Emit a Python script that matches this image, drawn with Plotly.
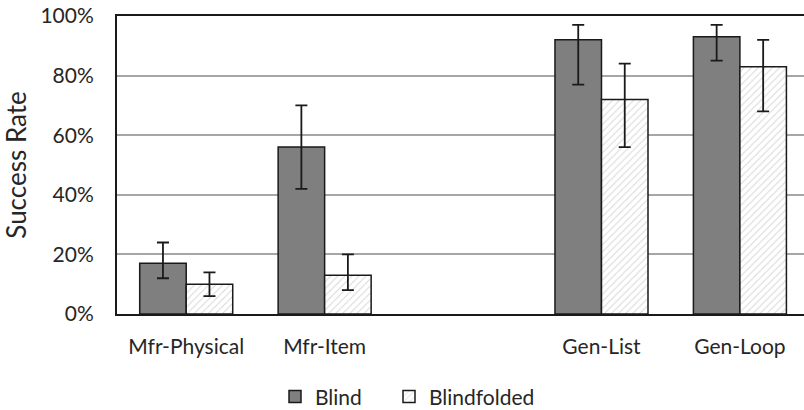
import plotly.graph_objects as go

categories = ["Mfr-Physical", "Mfr-Item", " ", "Gen-List", "Gen-Loop"]
blind = [17, 56, None, 92, 93]
blind_err_plus = [7, 14, None, 5, 4]
blind_err_minus = [5, 14, None, 15, 8]
blindfolded = [10, 13, None, 72, 83]
blindfolded_err_plus = [4, 7, None, 12, 9]
blindfolded_err_minus = [4, 5, None, 16, 15]
y_tick_vals = [0, 20, 40, 60, 80, 100]
y_tick_text = ["0%", "20%", "40%", "60%", "80%", "100%"]

FONT = "Lato"
TXT = "#262626"
FS = 21

fig = go.Figure()
fig.add_trace(go.Bar(
    name="Blind", x=categories, y=blind, legend="legend",
    marker=dict(color="#7f7f7f", line=dict(color="#1a1a1a", width=1.5)),
    error_y=dict(type="data", symmetric=False, array=blind_err_plus,
                 arrayminus=blind_err_minus, color="#1a1a1a", thickness=1.8, width=6),
))
fig.add_trace(go.Bar(
    name="Blindfolded", x=categories, y=blindfolded, legend="legend2",
    marker=dict(color="white", line=dict(color="#1a1a1a", width=1.5),
                pattern=dict(shape="/", fgcolor="#b0b0b0", bgcolor="white",
                             size=5, solidity=0.2)),
    error_y=dict(type="data", symmetric=False, array=blindfolded_err_plus,
                 arrayminus=blindfolded_err_minus, color="#1a1a1a", thickness=1.8, width=6),
))

leg_common = dict(orientation="h", xref="container", yref="container",
                  xanchor="left", y=0.032, yanchor="middle",
                  font=dict(family=FONT, size=FS, color=TXT),
                  bgcolor="rgba(0,0,0,0)", borderwidth=0)

fig.update_layout(
    width=804, height=410,
    margin=dict(l=117, r=0, t=16, b=96),
    paper_bgcolor="white", plot_bgcolor="white",
    barmode="group", bargap=0.328, bargroupgap=0,
    font=dict(family=FONT, size=FS, color=TXT),
    showlegend=True,
    legend=dict(x=275 / 804, **leg_common),
    legend2=dict(x=389 / 804, **leg_common),
)
fig.update_xaxes(
    range=[-0.5, 4.463], showline=True, linecolor="#1a1a1a", linewidth=2,
    mirror=True, showgrid=False, ticks="", ticklabelstandoff=13,
    tickfont=dict(family=FONT, size=FS, color=TXT),
)
fig.update_yaxes(
    range=[0, 100], tickmode="array", tickvals=y_tick_vals, ticktext=y_tick_text,
    showline=True, linecolor="#1a1a1a", linewidth=2, mirror=False,
    showgrid=True, gridcolor="#a6a6a6", gridwidth=1.5, zeroline=False,
    ticks="", ticklabelstandoff=17,
    tickfont=dict(family=FONT, size=FS, color=TXT),
    title=dict(text="Success Rate", standoff=17,
               font=dict(family=FONT, size=26, color=TXT)),
)

fig.write_html("out.html", config={"displayModeBar": False},
               post_script="document.body.style.margin='0';")
